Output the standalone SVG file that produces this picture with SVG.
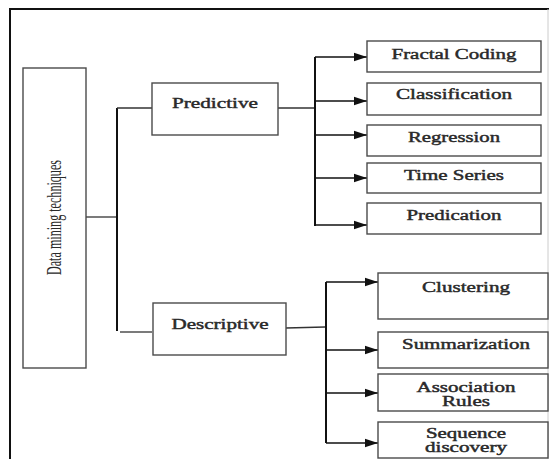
<svg xmlns="http://www.w3.org/2000/svg" width="551" height="459" viewBox="0 0 551 459">
<style>
.box{fill:#fff;stroke:#4a4a4a;stroke-width:1.4}
.lbl{font-family:"Liberation Serif","Times New Roman",serif;font-size:15px;fill:#2a2a2a;stroke:#2a2a2a;stroke-width:0.45;text-anchor:middle}
.sm{font-size:14px}
.thin{stroke:#333;stroke-width:1.3;fill:none}
.bus{stroke:#111;stroke-width:2;fill:none}
.arr{stroke:#111;stroke-width:1.6;fill:none;marker-end:url(#ah)}
</style>
<defs>
<marker id="ah" markerUnits="userSpaceOnUse" markerWidth="14" markerHeight="10" refX="13" refY="5" orient="auto">
<path d="M0,0.8 L13,5 L0,9.2 Z" fill="#111"/>
</marker>
</defs>
<rect width="551" height="459" fill="#fff"/>
<path d="M10,470 V9 H549" fill="none" stroke="#111" stroke-width="2"/>
<line x1="548" y1="9" x2="548" y2="470" stroke="#ccc" stroke-width="1"/>

<g id="connectors">
<line class="thin" x1="86" y1="217" x2="117" y2="217"/>
<path class="bus" d="M117,108 V331"/>
<line class="thin" x1="117" y1="108" x2="152" y2="108"/>
<line class="thin" x1="120" y1="332" x2="152" y2="332"/>
<line class="thin" x1="278" y1="108" x2="315" y2="108"/>
<path class="bus" d="M315,57 V226"/>
<line class="arr" x1="315" y1="57" x2="367" y2="57"/>
<line class="arr" x1="315" y1="101" x2="367" y2="101"/>
<line class="arr" x1="315" y1="135" x2="367" y2="135"/>
<line class="arr" x1="315" y1="178" x2="367" y2="178"/>
<line class="arr" x1="315" y1="225" x2="367" y2="225"/>
<line class="thin" x1="286" y1="328" x2="325" y2="327"/>
<path class="bus" d="M326,282 V443"/>
<line class="arr" x1="326" y1="282" x2="378" y2="282"/>
<line class="arr" x1="326" y1="350" x2="378" y2="350"/>
<line class="arr" x1="326" y1="393" x2="378" y2="393"/>
<line class="arr" x1="326" y1="443" x2="378" y2="443"/>
</g>

<g id="data-mining">
<rect class="box" x="23" y="68" width="63" height="300"/>
<text transform="translate(61,217.5) rotate(-90)" font-family="'Liberation Serif','Times New Roman',serif" font-size="21" fill="#2a2a2a" text-anchor="middle" textLength="115" lengthAdjust="spacingAndGlyphs">Data mining techniques</text>
</g>

<g id="predictive">
<rect class="box" x="152" y="83" width="126" height="52"/>
<text class="lbl" x="215" y="108" textLength="86" lengthAdjust="spacingAndGlyphs">Predictive</text>
</g>
<g id="descriptive">
<rect class="box" x="153" y="303" width="133" height="52"/>
<text class="lbl" x="220" y="329" textLength="97" lengthAdjust="spacingAndGlyphs">Descriptive</text>
</g>

<g id="fractal-coding">
<rect class="box" x="367" y="41" width="174" height="31"/>
<text class="lbl" x="454" y="59" textLength="125" lengthAdjust="spacingAndGlyphs">Fractal Coding</text>
</g>
<g id="classification">
<rect class="box" x="367" y="83" width="174" height="32"/>
<text class="lbl" x="454" y="99" textLength="116" lengthAdjust="spacingAndGlyphs">Classification</text>
</g>
<g id="regression">
<rect class="box" x="367" y="125" width="174" height="31"/>
<text class="lbl" x="454" y="142" textLength="92" lengthAdjust="spacingAndGlyphs">Regression</text>
</g>
<g id="time-series">
<rect class="box" x="367" y="163" width="174" height="30"/>
<text class="lbl" x="454" y="180" textLength="100" lengthAdjust="spacingAndGlyphs">Time Series</text>
</g>
<g id="predication">
<rect class="box" x="367" y="203" width="174" height="31"/>
<text class="lbl" x="454" y="220" textLength="95" lengthAdjust="spacingAndGlyphs">Predication</text>
</g>

<g id="clustering">
<rect class="box" x="378" y="273" width="170" height="46"/>
<text class="lbl" x="466" y="292" textLength="88" lengthAdjust="spacingAndGlyphs">Clustering</text>
</g>
<g id="summarization">
<rect class="box" x="378" y="332" width="170" height="36"/>
<text class="lbl" x="466" y="349" textLength="128" lengthAdjust="spacingAndGlyphs">Summarization</text>
</g>
<g id="association-rules">
<rect class="box" x="378" y="374" width="170" height="37"/>
<text class="lbl sm" x="466" y="391.5" textLength="99" lengthAdjust="spacingAndGlyphs">Association</text>
<text class="lbl sm" x="466" y="406" textLength="48" lengthAdjust="spacingAndGlyphs">Rules</text>
</g>
<g id="sequence-discovery">
<rect class="box" x="378" y="422" width="170" height="36"/>
<text class="lbl sm" x="466" y="437.5" textLength="80" lengthAdjust="spacingAndGlyphs">Sequence</text>
<text class="lbl sm" x="466" y="452" textLength="82" lengthAdjust="spacingAndGlyphs">discovery</text>
</g>
</svg>
